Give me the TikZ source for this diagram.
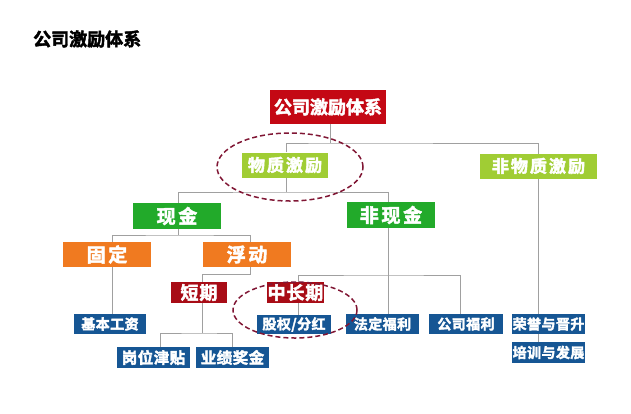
\documentclass[tikz,border=0pt]{standalone}
\usepackage{fontspec}
\usetikzlibrary{shapes.geometric,backgrounds}
\newfontfamily\cjkT[FakeBold=2.5]{Noto Sans CJK SC Bold}
\newfontfamily\cjkW[LetterSpace=14,FakeBold=2.5]{Noto Sans CJK SC Bold}
\newfontfamily\cjkM[LetterSpace=12,FakeBold=2.5]{Noto Sans CJK SC Bold}
\newfontfamily\cjkN[LetterSpace=5,FakeBold=2.5]{Noto Sans CJK SC Bold}
\newfontfamily\cjkB[LetterSpace=3,FakeBold=2.5]{Noto Sans CJK SC Bold}
\definecolor{rootred}{RGB}{196,8,20}
\definecolor{darkred}{RGB}{168,12,22}
\definecolor{lgreen}{RGB}{160,205,52}
\definecolor{dgreen}{RGB}{34,170,42}
\definecolor{orng}{RGB}{240,122,32}
\definecolor{bblue}{RGB}{22,86,148}
\definecolor{ellc}{RGB}{128,22,52}
\definecolor{linec}{RGB}{160,160,160}
\tikzset{
  box/.style={inner sep=0pt, text=white, anchor=center},
  rootbox/.style={box, fill=rootred, minimum width=116pt, minimum height=34pt, font=\cjkT\fontsize{18}{18}\selectfont},
  lgbox/.style={box, fill=lgreen, minimum height=25pt, font=\cjkM\fontsize{17}{17}\selectfont},
  dgbox/.style={box, fill=dgreen, minimum width=88pt, minimum height=26pt, font=\cjkW\fontsize{19}{19}\selectfont},
  orbox/.style={box, fill=orng, minimum width=88pt, minimum height=25pt, font=\cjkW\fontsize{19}{19}\selectfont},
  drbox/.style={box, fill=darkred, minimum width=56pt, minimum height=21pt, font=\cjkN\fontsize{18}{18}\selectfont},
  blbox/.style={box, fill=bblue, minimum width=73pt, minimum height=20pt, font=\cjkB\fontsize{14}{14}\selectfont},
  bl2box/.style={box, fill=bblue, minimum width=73pt, minimum height=21pt, font=\cjkB\fontsize{15.5}{15.5}\selectfont},
  conn/.style={draw=linec, line width=0.6pt},
  ring/.style={ellipse, draw=ellc, dashed, dash pattern=on 5pt off 3pt, line width=1.5pt, inner sep=0pt}
}
\begin{document}
\begin{tikzpicture}[x=1pt,y=-1pt]
\useasboundingbox (0,0) rectangle (631,413);
\node[anchor=west, inner sep=0pt, font=\cjkT\fontsize{18}{18}\selectfont] (title) at (33,39) {公司激励体系};

\node[rootbox] (root) at (328,107) {公司激励体系};
\node[lgbox, minimum width=86pt] (wz) at (285,165) {物质激励};
\node[lgbox, minimum width=117pt] (fwz) at (538.5,166) {非物质激励};
\node[dgbox] (xj) at (177,216) {现金};
\node[dgbox] (fxj) at (391,215) {非现金};
\node[orbox] (gd) at (107,254.5) {固定};
\node[orbox] (fd) at (247,254.5) {浮动};
\node[drbox] (dq) at (199,292.5) {短期};
\node[drbox, minimum width=57pt] (zcq) at (295.5,292.5) {中长期};
\node[blbox, minimum width=72pt] (jbgz) at (110,324) {基本工资};
\node[blbox, minimum width=74pt, minimum height=19pt] (gq) at (294,324.5) {股权/分红};
\node[blbox] (fdfl) at (382.5,324) {法定福利};
\node[blbox, minimum width=74pt] (gsfl) at (466,324) {公司福利};
\node[blbox] (ry) at (548.5,324) {荣誉与晋升};
\node[blbox, minimum height=21pt] (px) at (548.5,352.5) {培训与发展};
\node[bl2box] (gw) at (153.5,357.5) {岗位津贴};
\node[bl2box] (yj) at (232.5,357.5) {业绩奖金};

\coordinate (j1) at (330,143);
\coordinate (j2) at (286,192);
\coordinate (j3) at (178,235);
\coordinate (j4) at (250,274);
\coordinate (j5) at (388,275);
\coordinate (j6) at (202,333);
\coordinate (fwzx) at (538,0);

\begin{pgfonlayer}{background}
\draw[conn] (root.south -| j1) -- (j1);
\draw[conn] ([xshift=1pt]wz.north) |- (j1) -| (fwz.north -| fwzx);
\draw[conn] (fwz.north -| fwzx) -- (px.north -| fwzx);
\draw[conn] ([xshift=1pt]wz.south) -- ([xshift=1pt]wz.south |- j2);
\draw[conn] ([xshift=1pt]xj.north) |- ([xshift=1pt]wz.south |- j2) -| ([xshift=-3pt]fxj.north);
\draw[conn] ([xshift=1pt]xj.south) -- ([xshift=1pt]xj.south |- j3);
\draw[conn] ([xshift=5pt]gd.north) |- (j3) -| ([xshift=3pt]fd.north);
\draw[conn] ([xshift=5pt]gd.south) -- ([xshift=2pt]jbgz.north);
\draw[conn] ([xshift=3pt]fd.south) -- (j4) -| ([xshift=3pt]dq.north);
\draw[conn] ([xshift=-3pt]fxj.south) -- ([xshift=5.5pt]fdfl.north);
\draw[conn] ([xshift=2.5pt]zcq.north) |- (j5) -| ([xshift=-6pt]gsfl.north);
\draw[conn] ([xshift=2.5pt]zcq.south) -- ([xshift=4pt]gq.north);
\draw[conn] ([xshift=3pt]dq.south) -- (j6);
\draw[conn] ([xshift=6.5pt]gw.north) |- (j6) -| ([xshift=-0.5pt]yj.north);
\end{pgfonlayer}

\node[ring, minimum width=146pt, minimum height=68pt] (e1) at (290,167) {};
\node[ring, minimum width=124pt, minimum height=56pt] (e2) at (295,310) {};
\end{tikzpicture}
\end{document}
